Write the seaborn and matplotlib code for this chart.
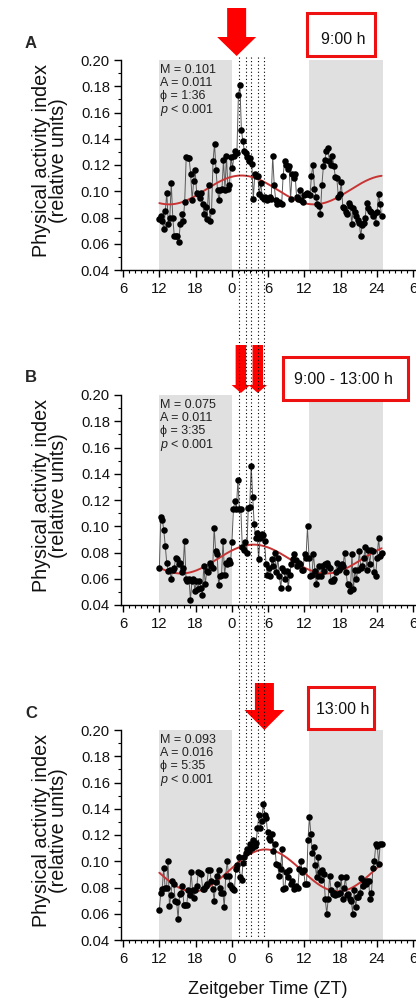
import numpy as np
import pandas as pd
import matplotlib
matplotlib.use("Agg")
import matplotlib.pyplot as plt
import seaborn as sns
from matplotlib.patches import Polygon, Rectangle
from matplotlib.ticker import MultipleLocator, FormatStrFormatter

sns.set_theme(style="ticks")
plt.rcParams['font.family'] = ['Liberation Sans', 'DejaVu Sans']
plt.rcParams['mathtext.fontset'] = 'custom'
plt.rcParams['mathtext.it'] = 'Liberation Sans:italic'
plt.rcParams['mathtext.rm'] = 'Liberation Sans'

# ---------------- data ----------------
panel_letters = ["A", "B", "C"]
box_labels = ["9:00 h", "9:00 - 13:00 h", "13:00 h"]
mesor = [0.101, 0.075, 0.093]
amplitude = [0.011, 0.011, 0.016]
acrophase_txt = ["1:36", "3:35", "5:35"]
acrophase_h = [1 + 36 / 60, 3 + 35 / 60, 5 + 35 / 60]
p_txt = ["p < 0.001", "p < 0.001", "p < 0.001"]

activity_A = [0.079, 0.081, 0.077, 0.071, 0.085, 0.099, 0.075, 0.080, 0.106, 0.080,
              0.066, 0.066, 0.066, 0.061, 0.075, 0.083, 0.077, 0.092, 0.126, 0.125,
              0.125, 0.113, 0.093, 0.108, 0.116, 0.099, 0.098, 0.095, 0.099, 0.090,
              0.083, 0.088, 0.079, 0.105, 0.077, 0.085, 0.123, 0.136, 0.116, 0.101,
              0.093, 0.101, 0.102, 0.124, 0.101, 0.127, 0.102, 0.105, 0.126, 0.118,
              0.127, 0.131, 0.129, 0.173, 0.181, 0.147, 0.138, 0.131, 0.129, 0.126,
              0.123, 0.125, 0.121, 0.094, 0.113, 0.112, 0.112, 0.098, 0.106, 0.096,
              0.094, 0.096, 0.093, 0.094, 0.096, 0.094, 0.127, 0.105, 0.093, 0.090,
              0.092, 0.091, 0.090, 0.112, 0.123, 0.120, 0.117, 0.119, 0.094, 0.113,
              0.110, 0.113, 0.096, 0.094, 0.101, 0.093, 0.092, 0.097, 0.098, 0.099,
              0.098, 0.097, 0.112, 0.120, 0.102, 0.096, 0.090, 0.089, 0.083, 0.105,
              0.119, 0.124, 0.131, 0.133, 0.123, 0.120, 0.127, 0.119, 0.111, 0.110,
              0.096, 0.098, 0.107, 0.088, 0.087, 0.084, 0.083, 0.091, 0.089, 0.075,
              0.087, 0.084, 0.081, 0.078, 0.076, 0.066, 0.074, 0.076, 0.080, 0.091,
              0.087, 0.085, 0.084, 0.081, 0.083, 0.076, 0.084, 0.098, 0.090, 0.081]

activity_B = [0.068, 0.107, 0.105, 0.097, 0.085, 0.072, 0.066, 0.067, 0.060, 0.067,
              0.068, 0.076, 0.075, 0.071, 0.072, 0.065, 0.068, 0.089, 0.060, 0.058,
              0.060, 0.044, 0.058, 0.060, 0.051, 0.058, 0.052, 0.058, 0.053, 0.048,
              0.070, 0.056, 0.066, 0.065, 0.072, 0.070, 0.068, 0.099, 0.081, 0.079,
              0.055, 0.062, 0.063, 0.089, 0.063, 0.072, 0.071, 0.074, 0.072, 0.088,
              0.113, 0.119, 0.113, 0.135, 0.113, 0.113, 0.084, 0.082, 0.088, 0.080,
              0.114, 0.115, 0.146, 0.122, 0.102, 0.091, 0.095, 0.075, 0.091, 0.094,
              0.093, 0.089, 0.071, 0.063, 0.068, 0.062, 0.075, 0.070, 0.080, 0.065,
              0.076, 0.062, 0.053, 0.068, 0.066, 0.060, 0.066, 0.053, 0.063, 0.071,
              0.075, 0.079, 0.074, 0.070, 0.072, 0.071, 0.067, 0.067, 0.079, 0.076,
              0.100, 0.076, 0.062, 0.063, 0.079, 0.066, 0.056, 0.062, 0.070, 0.062,
              0.070, 0.066, 0.071, 0.072, 0.070, 0.068, 0.058, 0.058, 0.060, 0.065,
              0.072, 0.067, 0.068, 0.071, 0.070, 0.080, 0.065, 0.056, 0.055, 0.051,
              0.079, 0.052, 0.067, 0.060, 0.067, 0.081, 0.068, 0.070, 0.076, 0.084,
              0.067, 0.082, 0.071, 0.082, 0.081, 0.065, 0.062, 0.076, 0.091, 0.077,
              0.080]

activity_C = [0.063, 0.076, 0.079, 0.095, 0.080, 0.080, 0.100, 0.066, 0.074, 0.085,
              0.083, 0.070, 0.069, 0.056, 0.075, 0.076, 0.081, 0.067, 0.067, 0.067,
              0.078, 0.074, 0.092, 0.078, 0.072, 0.078, 0.081, 0.092, 0.091, 0.090,
              0.079, 0.079, 0.081, 0.083, 0.093, 0.093, 0.085, 0.079, 0.070, 0.084,
              0.089, 0.093, 0.080, 0.076, 0.076, 0.065, 0.089, 0.100, 0.089, 0.082,
              0.080, 0.079, 0.078, 0.094, 0.097, 0.103, 0.088, 0.086, 0.099, 0.103,
              0.106, 0.109, 0.108, 0.113, 0.110, 0.116, 0.112, 0.114, 0.125, 0.135,
              0.125, 0.131, 0.144, 0.135, 0.133, 0.122, 0.118, 0.116, 0.121, 0.108,
              0.113, 0.098, 0.097, 0.089, 0.094, 0.109, 0.079, 0.080, 0.092, 0.088,
              0.093, 0.083, 0.085, 0.079, 0.080, 0.081, 0.080, 0.094, 0.100, 0.092,
              0.093, 0.083, 0.083, 0.116, 0.134, 0.121, 0.106, 0.111, 0.097, 0.088,
              0.103, 0.092, 0.086, 0.093, 0.090, 0.071, 0.060, 0.071, 0.089, 0.078,
              0.075, 0.076, 0.074, 0.083, 0.075, 0.076, 0.088, 0.071, 0.080, 0.088,
              0.074, 0.075, 0.071, 0.070, 0.060, 0.078, 0.065, 0.073, 0.073, 0.076,
              0.087, 0.081, 0.085, 0.083, 0.085, 0.085, 0.071, 0.076, 0.095, 0.100,
              0.113, 0.112, 0.098, 0.113, 0.113]

series = [activity_A, activity_B, activity_C]
t_start, t_end = 12.0, 48.8          # hours on the continuous axis (ZT 12 -> ZT 24.8 next day)
dark_periods = [(12.0, 24.0), (36.8, 49.0)]
dotted_zt = [25.25, 26.3, 27.2, 28.3, 29.4]
arrow_zt = [[24.8], [25.5, 28.3], [29.4]]

xtick_pos = [6, 12, 18, 24, 30, 36, 42, 48, 54]
xtick_labels = ["6", "12", "18", "0", "6", "12", "18", "24", "6"]
ytick_vals = [0.04, 0.06, 0.08, 0.10, 0.12, 0.14, 0.16, 0.18, 0.20]

# ---------------- layout ----------------
W, H = 416, 1001
fig = plt.figure(figsize=(W / 100, H / 100), dpi=100)
panel_tops = [60, 395, 730]
ax_left, ax_right, ax_h = 121, 416, 210
GRAY = "#e0e0e0"
RED = "#ff0000"

axes = []
for i in range(3):
    top = panel_tops[i]
    ax = fig.add_axes([ax_left / W, 1 - (top + ax_h) / H, (ax_right - ax_left) / W, ax_h / H])
    axes.append(ax)
    for (a, b) in dark_periods:
        ax.axvspan(a, b, color=GRAY, lw=0, zorder=0)
    vals = series[i]
    t = np.linspace(t_start, t_end, len(vals))
    df = pd.DataFrame({"t": t, "v": vals})
    sns.lineplot(data=df, x="t", y="v", ax=ax, color="#5a5a5a", lw=0.7,
                 estimator=None, sort=False, zorder=2)
    tf = np.linspace(t_start, t_end, 300)
    fit = mesor[i] + amplitude[i] * np.cos(2 * np.pi * (tf - acrophase_h[i]) / 24.0)
    sns.lineplot(x=tf, y=fit, ax=ax, color="#c83434", lw=1.4, estimator=None,
                 sort=False, zorder=2.5)
    sns.scatterplot(data=df, x="t", y="v", ax=ax, color="black", s=22,
                    edgecolor="black", linewidth=0, zorder=3)

    ax.set_xlim(5.65, 54.5)
    ax.set_ylim(0.04, 0.20)
    sns.despine(ax=ax)
    ax.set_xticks(xtick_pos)
    ax.set_xticklabels(xtick_labels)
    ax.xaxis.set_minor_locator(MultipleLocator(1))
    ax.set_yticks(ytick_vals)
    ax.yaxis.set_major_formatter(FormatStrFormatter("%.2f"))
    ax.yaxis.set_minor_locator(MultipleLocator(0.01))
    ax.tick_params(which="major", direction="out", length=5, width=1, labelsize=10.7,
                   color="black", labelcolor="#111111")
    ax.tick_params(axis="x", which="major", pad=3.5)
    ax.tick_params(axis="y", which="major", pad=3)
    ax.tick_params(which="minor", direction="out", length=2.5, width=0.8, color="black")
    for s in ["left", "bottom"]:
        ax.spines[s].set_color("black")
        ax.spines[s].set_linewidth(1)
    ax.set_xlabel("")
    ax.set_ylabel("Physical activity index\n(relative units)", fontsize=14.2,
                  linespacing=0.92, ha="center", va="center", color="#111111")
    ax.yaxis.set_label_coords(-0.2407, 0.52)

    # statistics text
    stats = [f"M = {mesor[i]:.3f}", f"A = {amplitude[i]:.3f}",
             f"\u03d5 = {acrophase_txt[i]}", r"$\mathit{p}$" + p_txt[i][1:]]
    for k, s in enumerate(stats):
        off_px = 10 + 13.2 * k
        yv = 0.20 - off_px / ax_h * 0.16
        ax.text(12.05, yv, s, fontsize=9, ha="left", va="center", color="#222222",
                zorder=5)

    fig.text(31 / W, 1 - (top - 17) / H, panel_letters[i], fontsize=12,
             fontweight="bold", ha="center", va="center")

fig.text(267.5 / W, 1 - 990 / H, "Zeitgeber Time (ZT)", fontsize=13,
         ha="center", va="center", color="#111111")

# ---------------- overlay (dotted lines, arrows, boxes) ----------------
ov = fig.add_axes([0, 0, 1, 1], zorder=10)
ov.set_xlim(0, W)
ov.set_ylim(H, 0)
ov.axis("off")
ov.patch.set_alpha(0)


def hx(h):
    return axes[0].transData.transform((h, 0.1))[0]


for h in dotted_zt:
    x = hx(h)
    ov.plot([x, x], [57, 938], color="black", lw=0.8, ls=(0, (1, 2.2)))


def arrow(cx, top, head_y, tip, bw, hw):
    pts = [(cx - bw / 2, top), (cx + bw / 2, top), (cx + bw / 2, head_y),
           (cx + hw / 2, head_y), (cx, tip), (cx - hw / 2, head_y), (cx - bw / 2, head_y)]
    ov.add_patch(Polygon(pts, closed=True, color=RED, lw=0))


arrow_geom = [(8, 37, 56, 19, 39), (345, 385, 393, 10.5, 18.5), (683, 710, 730, 19, 40)]
for i in range(3):
    for h in arrow_zt[i]:
        top_, head_, tip_, bw, hw = arrow_geom[i]
        arrow(hx(h), top_, head_, tip_, bw, hw)

boxes = [(307, 13, 375, 56, 343, 40), (283, 357, 408, 400, 343, 379),
         (308, 687, 374, 729, 343, 710)]
for i, (x0, y0, x1, y1, tx, ty) in enumerate(boxes):
    ov.add_patch(Rectangle((x0, y0), x1 - x0, y1 - y0, facecolor="white",
                           edgecolor="#ee1111", lw=2.2))
    ov.text(tx, ty, box_labels[i], fontsize=11.5, ha="center", va="center",
            color="#111111")

fig.savefig("out.png", dpi=100)
